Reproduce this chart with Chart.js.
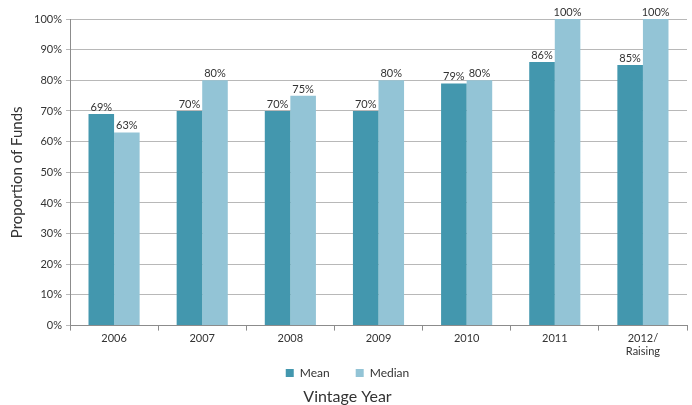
<!DOCTYPE html>
<html>
<head>
<meta charset="utf-8">
<script src="https://cdn.jsdelivr.net/npm/chart.js@4/dist/chart.umd.min.js"></script>
<style>
  html, body { margin: 0; padding: 0; background: #fff; }
  #wrap { width: 692px; height: 405px; }
</style>
</head>
<body>
<div id="wrap"><canvas id="fundsChart"></canvas></div>
<script>
// chart data
const years = ['2006', '2007', '2008', '2009', '2010', '2011', ['2012/', 'Raising']];
const meanValues = [69, 70, 70, 70, 79, 86, 85];
const medianValues = [63, 80, 75, 80, 80, 100, 100];
const yTicks = [0, 10, 20, 30, 40, 50, 60, 70, 80, 90, 100];

const textColor = '#333333';
const fontFamily = 'Lato, "DejaVu Sans", sans-serif';

// Draws the percentage above each bar
const barLabels = {
  id: 'barLabels',
  afterDatasetsDraw(chart) {
    const {ctx} = chart;
    ctx.save();
    ctx.font = '11px ' + fontFamily;
    ctx.fillStyle = textColor;
    ctx.textAlign = 'center';
    ctx.textBaseline = 'bottom';
    chart.data.datasets.forEach((ds, i) => {
      chart.getDatasetMeta(i).data.forEach((bar, j) => {
        ctx.fillText(ds.data[j] + '%', bar.x, bar.y - 1);
      });
    });
    ctx.restore();
  }
};

new Chart(document.getElementById('fundsChart').getContext('2d'), {
  type: 'bar',
  data: {
    labels: years,
    datasets: [
      {
        label: 'Mean',
        data: meanValues,
        backgroundColor: '#4397AE',
        categoryPercentage: 0.58,
        barPercentage: 1
      },
      {
        label: 'Median',
        data: medianValues,
        backgroundColor: '#93C4D6',
        categoryPercentage: 0.58,
        barPercentage: 1
      }
    ]
  },
  options: {
    responsive: true,
    maintainAspectRatio: false,
    animation: false,
    layout: {padding: {left: 8, right: 5, top: 19, bottom: 0}},
    plugins: {
      legend: {
        position: 'bottom',
        labels: {
          boxWidth: 8,
          boxHeight: 8,
          padding: 8,
          color: textColor,
          font: {family: fontFamily, size: 12},
          // wider gap between the two legend entries
          generateLabels(chart) {
            const items = Chart.defaults.plugins.legend.labels.generateLabels(chart);
            items[0].text += '\u2003\u2003';
            return items;
          }
        }
      },
      title: {
        display: true,
        position: 'bottom',
        text: 'Vintage Year',
        color: textColor,
        font: {family: fontFamily, size: 16, weight: 'normal', lineHeight: 1},
        padding: {top: 0, bottom: 0}
      },
      tooltip: {enabled: false}
    },
    scales: {
      x: {
        grid: {
          offset: true,
          drawOnChartArea: false,
          tickLength: 5,
          color: '#8C8C8C'
        },
        border: {color: '#8C8C8C'},
        ticks: {
          color: textColor,
          font: {family: fontFamily, size: 11},
          padding: 1
        }
      },
      y: {
        min: 0,
        max: 100,
        afterBuildTicks(scale) {
          scale.ticks = yTicks.map(v => ({value: v}));
        },
        afterFit(scale) {
          scale.width = 62;
        },
        grid: {color: '#B8B8B8', tickLength: 4},
        border: {color: '#8C8C8C'},
        ticks: {
          color: textColor,
          font: {family: fontFamily, size: 11},
          padding: 4,
          callback: v => v + '%'
        },
        title: {
          display: true,
          text: 'Proportion of Funds',
          color: textColor,
          font: {family: fontFamily, size: 15},
          padding: {top: 0, bottom: 4}
        }
      }
    }
  },
  plugins: [barLabels]
});
</script>
</body>
</html>
